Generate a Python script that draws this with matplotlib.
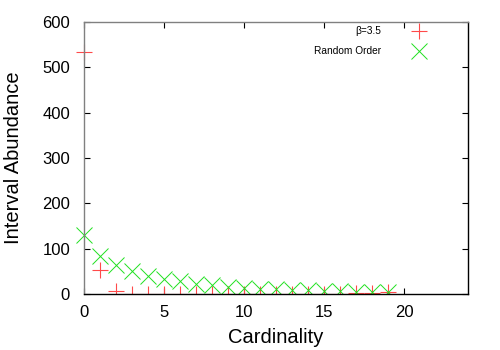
import matplotlib
matplotlib.use("Agg")
import matplotlib.pyplot as plt
from matplotlib.patches import Rectangle

plt.rcParams["font.family"] = ["Liberation Sans", "DejaVu Sans"]

# Data
cardinality = list(range(20))
beta_vals = [535, 54, 6, 1, 0, 0, 0, 0, 0, 0, 0, 0, 0, 0, 0, 1, 1, 2, 3, 4]
random_vals = [130, 83, 63, 50, 40, 34, 28, 23, 19, 16, 13, 11, 10, 9, 8, 7, 6, 5, 5, 4]

fig = plt.figure(figsize=(5, 3.5), dpi=100)
ax = fig.add_axes([0.168, 0.16, 0.768, 0.777])

# clip at the bottom/top/right of the plot area but let points spill left
clip = Rectangle((-0.05, 0), 1.05, 1.05, transform=ax.transAxes)

l1, = ax.plot(cardinality, beta_vals, linestyle="none", marker="+", markersize=12,
              markeredgewidth=0.8, color="#ff4a4a", label="\u03b2=3.5")
l2, = ax.plot(cardinality, random_vals, linestyle="none", marker="x", markersize=11,
              markeredgewidth=0.7, color="#20e020", label="Random Order")
for ln in (l1, l2):
    ln.set_clip_path(clip)

ax.set_xlim(0, 24)
ax.set_ylim(0, 600)
ax.set_xticks([0, 5, 10, 15, 20])
ax.set_yticks([0, 100, 200, 300, 400, 500, 600])
ax.tick_params(direction="in", top=True, right=True, labelsize=12, length=4)
ax.tick_params(axis="y", pad=10)
ax.tick_params(axis="x", pad=8)
ax.set_xlabel("Cardinality", fontsize=14.5, labelpad=6)
ax.set_ylabel("Interval Abundance", fontsize=14.5, labelpad=14)

for s in ax.spines.values():
    s.set_linewidth(1.0)
ax.spines["left"].set_color("#808080")
ax.spines["top"].set_color("#808080")

ax.legend(loc="upper right", bbox_to_anchor=(0.9, 0.985), markerfirst=False,
          frameon=False, fontsize=7.3, handletextpad=2.8, borderaxespad=0,
          borderpad=0, labelspacing=1.0)

fig.savefig("out.png", dpi=100)
